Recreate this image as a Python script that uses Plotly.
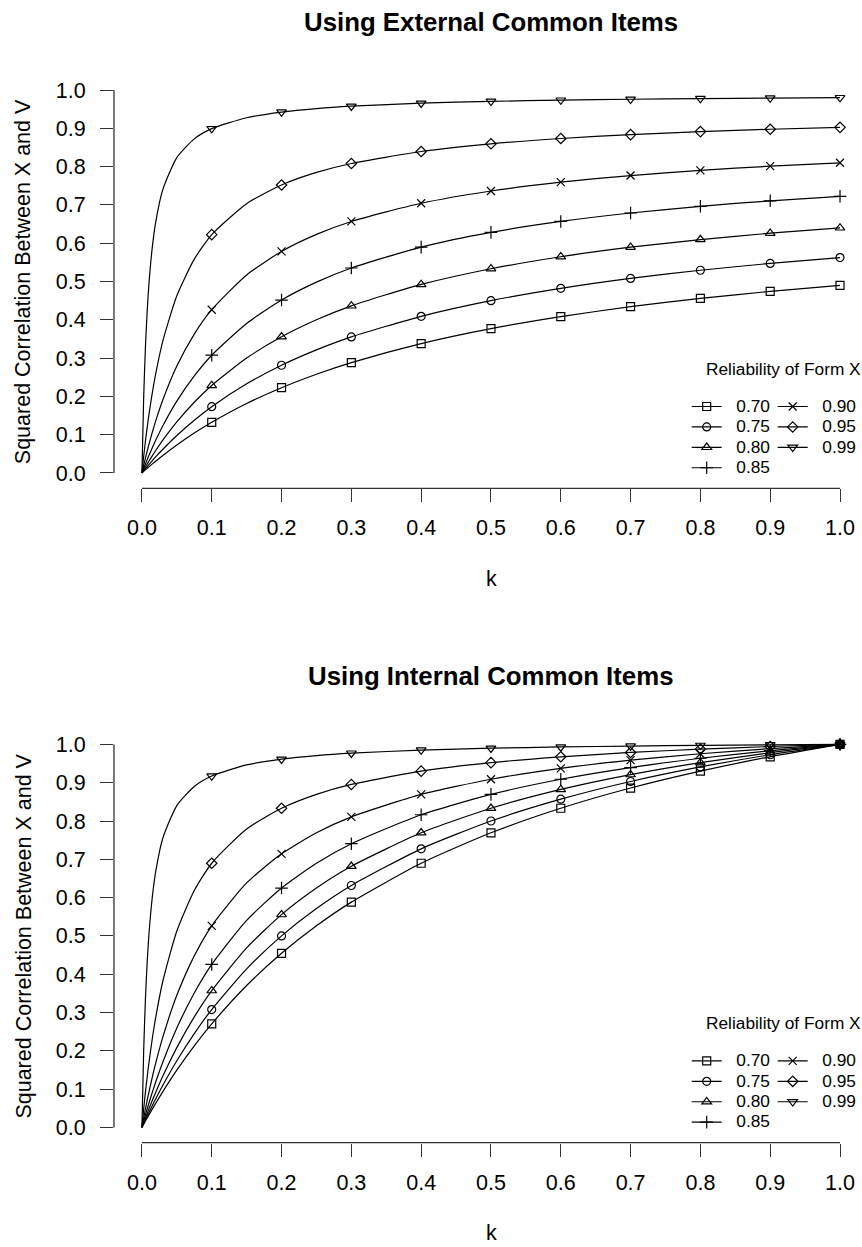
import plotly.graph_objects as go

# ---------------- data ----------------
K = [0, 0.0025, 0.005, 0.0075, 0.01, 0.015, 0.02, 0.03, 0.05, 0.075,
     0.1, 0.15, 0.2, 0.25, 0.3, 0.4, 0.5, 0.6, 0.7, 0.8, 0.9, 1.0]
MARK_K = [0.1, 0.2, 0.3, 0.4, 0.5, 0.6, 0.7, 0.8, 0.9, 1.0]
TICKS = [0.0, 0.1, 0.2, 0.3, 0.4, 0.5, 0.6, 0.7, 0.8, 0.9, 1.0]
TICK_TEXT = ["0.0", "0.1", "0.2", "0.3", "0.4", "0.5", "0.6", "0.7", "0.8", "0.9", "1.0"]
RELIABILITY = ["0.70", "0.75", "0.80", "0.85", "0.90", "0.95", "0.99"]

# Squared correlation between X and V, external common items
EXT_070 = [0, 0.0041, 0.0081, 0.0120, 0.0160, 0.0237, 0.0312, 0.0458, 0.0731, 0.1043, 0.1324, 0.1815, 0.2227, 0.2579, 0.2882, 0.3379, 0.3769, 0.4083, 0.4342, 0.4558, 0.4742, 0.4900]
EXT_075 = [0, 0.0056, 0.0111, 0.0165, 0.0218, 0.0323, 0.0425, 0.0619, 0.0978, 0.1378, 0.1731, 0.2328, 0.2813, 0.3214, 0.3553, 0.4091, 0.4500, 0.4821, 0.5081, 0.5294, 0.5473, 0.5625]
EXT_080 = [0, 0.0079, 0.0157, 0.0233, 0.0308, 0.0453, 0.0593, 0.0857, 0.1333, 0.1846, 0.2286, 0.3000, 0.3556, 0.4000, 0.4364, 0.4923, 0.5333, 0.5647, 0.5895, 0.6095, 0.6261, 0.6400]
EXT_085 = [0, 0.0119, 0.0234, 0.0347, 0.0456, 0.0666, 0.0865, 0.1235, 0.1877, 0.2535, 0.3075, 0.3905, 0.4516, 0.4983, 0.5352, 0.5898, 0.6283, 0.6568, 0.6789, 0.6964, 0.7107, 0.7225]
EXT_090 = [0, 0.0198, 0.0388, 0.0569, 0.0743, 0.1070, 0.1373, 0.1913, 0.2793, 0.3627, 0.4263, 0.5170, 0.5786, 0.6231, 0.6568, 0.7043, 0.7364, 0.7594, 0.7767, 0.7902, 0.8011, 0.8100]
EXT_095 = [0, 0.0431, 0.0824, 0.1185, 0.1517, 0.2107, 0.2616, 0.3449, 0.4628, 0.5583, 0.6224, 0.7033, 0.7521, 0.7848, 0.8082, 0.8395, 0.8595, 0.8734, 0.8836, 0.8914, 0.8975, 0.9025]
EXT_099 = [0, 0.1964, 0.3278, 0.4219, 0.4925, 0.5916, 0.6578, 0.7406, 0.8236, 0.8725, 0.8992, 0.9275, 0.9424, 0.9516, 0.9578, 0.9656, 0.9704, 0.9736, 0.9759, 0.9777, 0.9790, 0.9801]

# Squared correlation between X and V, internal common items
INT_070 = [0, 0.0083, 0.0165, 0.0246, 0.0326, 0.0483, 0.0637, 0.0935, 0.1493, 0.2128, 0.2703, 0.3704, 0.4545, 0.5263, 0.5882, 0.6897, 0.7692, 0.8333, 0.8861, 0.9302, 0.9677, 1.0]
INT_075 = [0, 0.0099, 0.0197, 0.0293, 0.0388, 0.0574, 0.0755, 0.1101, 0.1739, 0.2449, 0.3077, 0.4138, 0.5000, 0.5714, 0.6316, 0.7273, 0.8000, 0.8571, 0.9032, 0.9412, 0.9730, 1.0]
INT_080 = [0, 0.0124, 0.0245, 0.0364, 0.0481, 0.0708, 0.0926, 0.1339, 0.2083, 0.2885, 0.3571, 0.4688, 0.5556, 0.6250, 0.6818, 0.7692, 0.8333, 0.8824, 0.9211, 0.9524, 0.9783, 1.0]
INT_085 = [0, 0.0164, 0.0324, 0.0480, 0.0631, 0.0922, 0.1198, 0.1709, 0.2597, 0.3509, 0.4255, 0.5405, 0.6250, 0.6897, 0.7407, 0.8163, 0.8696, 0.9091, 0.9396, 0.9639, 0.9836, 1.0]
INT_090 = [0, 0.0245, 0.0478, 0.0703, 0.0917, 0.1322, 0.1695, 0.2362, 0.3448, 0.4478, 0.5263, 0.6383, 0.7143, 0.7692, 0.8108, 0.8696, 0.9091, 0.9375, 0.9589, 0.9756, 0.9890, 1.0]
INT_095 = [0, 0.0477, 0.0913, 0.1313, 0.1681, 0.2335, 0.2899, 0.3822, 0.5128, 0.6186, 0.6897, 0.7792, 0.8333, 0.8696, 0.8955, 0.9302, 0.9524, 0.9677, 0.9790, 0.9877, 0.9945, 1.0]
INT_099 = [0, 0.2004, 0.3344, 0.4304, 0.5025, 0.6036, 0.6711, 0.7557, 0.8403, 0.8902, 0.9174, 0.9464, 0.9615, 0.9709, 0.9772, 0.9852, 0.9901, 0.9934, 0.9957, 0.9975, 0.9989, 1.0]

EXTERNAL = [EXT_070, EXT_075, EXT_080, EXT_085, EXT_090, EXT_095, EXT_099]
INTERNAL = [INT_070, INT_075, INT_080, INT_085, INT_090, INT_095, INT_099]

# ---------------- style ----------------
W, H = 862, 1247
ML = 114          # left margin in px
PW = W - ML       # plot-area width in px
FONT = "Liberation Sans, Arial, Helvetica, sans-serif"
SYMBOLS = ["square-open", "circle-open", "triangle-up-open", "cross-thin-open",
           "x-thin-open", "diamond-open", "triangle-down-open"]
SIZES = [8, 8, 8.5, 9, 8, 8, 8.5]
AXIS_COLOR = "#333333"


def py(p):
    return 1 - p / H


def px(p):
    return (p - ML) / PW


fig = go.Figure()

panels = [
    dict(xa="x", ya="y", data=EXTERNAL, legends=("legend", "legend2"),
         title="Using External Common Items", off=0.0),
    dict(xa="x2", ya="y2", data=INTERNAL, legends=("legend3", "legend4"),
         title="Using Internal Common Items", off=654.4),
]

mark_idx = [K.index(k) for k in MARK_K]

for p in panels:
    for i, (name, sym, size, vals) in enumerate(zip(RELIABILITY, SYMBOLS, SIZES, p["data"])):
        fig.add_trace(go.Scatter(
            x=K, y=vals, mode="lines", xaxis=p["xa"], yaxis=p["ya"],
            line=dict(color="black", width=1.2, shape="spline", smoothing=0.6),
            showlegend=False, hoverinfo="skip"))
        fig.add_trace(go.Scatter(
            x=[K[j] for j in mark_idx], y=[vals[j] for j in mark_idx],
            mode="markers", xaxis=p["xa"], yaxis=p["ya"],
            marker=dict(symbol=sym, size=size, color="black",
                        line=dict(width=1.2, color="black")),
            showlegend=False, name=name))
        fig.add_trace(go.Scatter(
            x=[None], y=[None], mode="lines+markers", xaxis=p["xa"], yaxis=p["ya"],
            line=dict(color="black", width=1.2),
            marker=dict(symbol=sym, size=size, color="black",
                        line=dict(width=1.2, color="black")),
            name='<span style="font-size:17.3px">\u00a0\u00a0' + name + "</span>",
            legend=p["legends"][0] if i < 4 else p["legends"][1],
            showlegend=True))

axis_common = dict(
    showgrid=False, zeroline=False, showline=False,
    ticks="outside", ticklen=13, tickwidth=1.3, tickcolor=AXIS_COLOR,
    tickvals=TICKS, ticktext=TICK_TEXT,
    tickfont=dict(family=FONT, size=21.5, color="black"),
)
xaxis_common = dict(ticklabelstandoff=7, **axis_common)
yaxis_common = dict(ticklabelstandoff=10, **axis_common)

fig.update_layout(
    width=W, height=H,
    margin=dict(l=ML, r=0, t=0, b=0, autoexpand=False),
    paper_bgcolor="white", plot_bgcolor="white",
    font=dict(family=FONT, color="black"),
    xaxis=dict(domain=[0, 1], range=[-0.04, 1.0315], anchor="y", **xaxis_common),
    yaxis=dict(domain=[py(488.3), py(74.7)], range=[-0.04, 1.04], anchor="x", **yaxis_common),
    xaxis2=dict(domain=[0, 1], range=[-0.04, 1.0315], anchor="y2", **xaxis_common),
    yaxis2=dict(domain=[py(1142.7), py(729.1)], range=[-0.04, 1.04], anchor="x2", **yaxis_common),
)

legend_common = dict(
    font=dict(family=FONT, size=13.4, color="black"),
    bgcolor="rgba(0,0,0,0)", borderwidth=0,
    xanchor="left", yanchor="top", orientation="v", traceorder="normal",
    itemclick=False, itemdoubleclick=False,
)
fig.update_layout(
    legend=dict(x=px(686.7), y=py(391.3), **legend_common),
    legend2=dict(x=px(772.7), y=py(391.3), **legend_common),
    legend3=dict(x=px(686.7), y=py(1045.7), **legend_common),
    legend4=dict(x=px(772.7), y=py(1045.7), **legend_common),
)

shapes = []
annotations = []
for p in panels:
    xa, ya = p["xa"], p["ya"]
    # R-style axis lines spanning only the tick range
    shapes.append(dict(type="line", xref=xa, yref=ya + " domain", x0=0, x1=1, y0=0, y1=0,
                       line=dict(color=AXIS_COLOR, width=1.3)))
    shapes.append(dict(type="line", xref=xa + " domain", yref=ya, x0=0, x1=0, y0=0, y1=1,
                       line=dict(color=AXIS_COLOR, width=1.3)))
    off = p["off"]
    annotations.append(dict(text="<b>" + p["title"] + "</b>", xref="paper", yref="paper",
                            x=px(491), y=py(22 + off), xanchor="center", yanchor="middle",
                            showarrow=False, font=dict(family=FONT, size=25.8, color="black")))
    annotations.append(dict(text="Squared Correlation Between X and V", xref="paper", yref="paper",
                            x=px(23.7), y=py(281.5 + off), xanchor="center", yanchor="middle",
                            textangle=-90, showarrow=False,
                            font=dict(family=FONT, size=21.5, color="black")))
    annotations.append(dict(text="k", xref="paper", yref="paper",
                            x=px(491), y=py(579 + off), xanchor="center", yanchor="middle",
                            showarrow=False, font=dict(family=FONT, size=21.5, color="black")))
    annotations.append(dict(text="Reliability of Form X", xref="paper", yref="paper",
                            x=px(783), y=py(369 + off), xanchor="center", yanchor="middle",
                            showarrow=False, font=dict(family=FONT, size=17.3, color="black")))

fig.update_layout(shapes=shapes, annotations=annotations)

fig.write_html("out.html", config={"displayModeBar": False})
